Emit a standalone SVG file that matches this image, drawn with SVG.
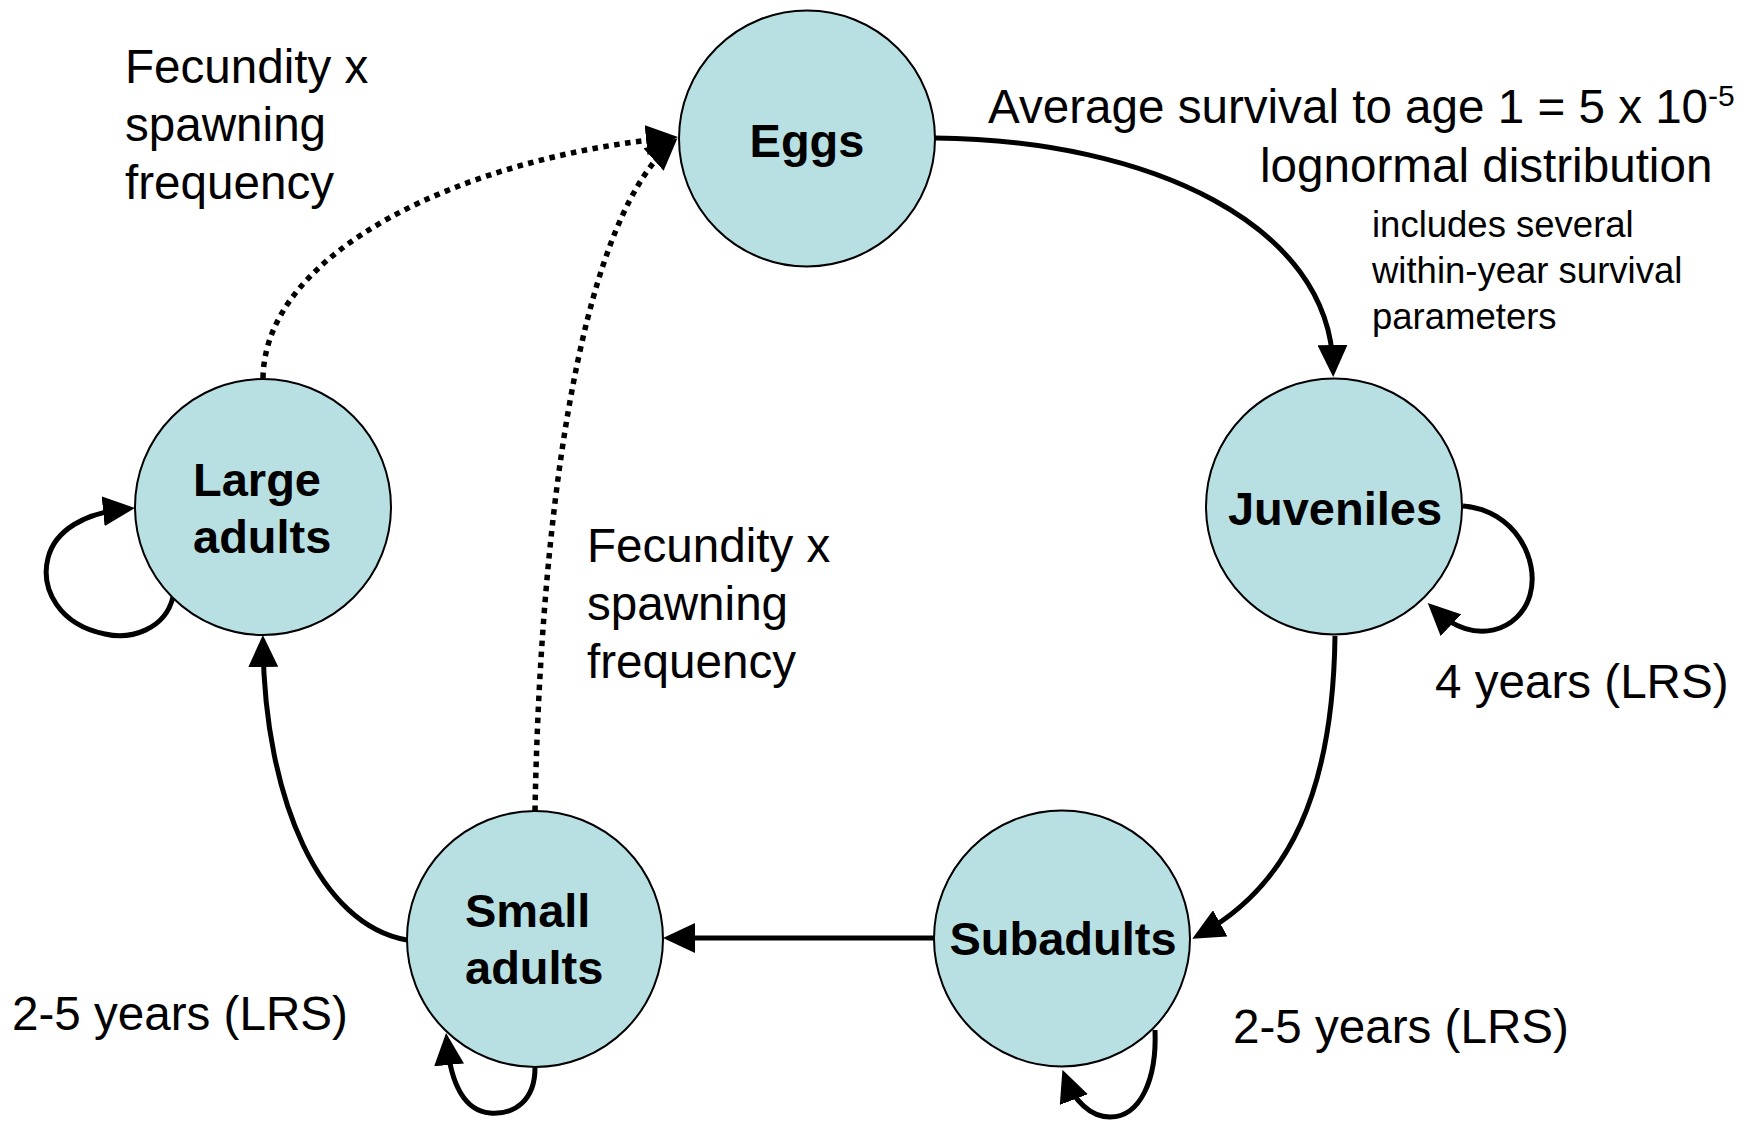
<svg xmlns="http://www.w3.org/2000/svg" width="1748" height="1125" viewBox="0 0 1748 1125">
<style>
.node{fill:#b8e0e3;stroke:#000;stroke-width:2}
.lbl{font-family:"Liberation Sans",Arial,sans-serif;font-weight:bold;font-size:47px;fill:#000}
.txt{font-family:"Liberation Sans",Arial,sans-serif;font-size:47.6px;fill:#000}
.small{font-family:"Liberation Sans",Arial,sans-serif;font-size:36.5px;fill:#000}
.edge{fill:none;stroke:#000;stroke-width:5;marker-end:url(#arr)}
.dot{fill:none;stroke:#000;stroke-width:5.5;stroke-dasharray:5.5 5.5;marker-end:url(#arr)}
</style>
<defs>
<marker id="arr" markerUnits="userSpaceOnUse" markerWidth="32" markerHeight="30" viewBox="0 0 32 30" refX="22" refY="15" orient="auto">
<path d="M0,0 L32,15 L0,30 Z" fill="#000"/>
</marker>
</defs>
<g id="connectors">
<path class="edge" d="M935 138 C1150 140, 1330 225, 1333 367"/>
<path class="edge" d="M1335 636 C1333 790, 1290 885, 1201 934"/>
<path class="edge" d="M934 938 L673 938"/>
<path class="edge" d="M407 940 C320 925, 265 800, 263 645"/>
<path class="edge" d="M1463 506 C1515 510, 1540 560, 1530 595 C1520 630, 1475 648, 1435 610"/>
<path class="edge" d="M173 597 C165 630, 130 640, 105 634 C60 625, 40 590, 48 558 C55 530, 85 513, 125 509"/>
<path class="edge" d="M535 1068 C535 1100, 515 1115, 490 1113 C465 1111, 451 1085, 447 1043"/>
<path class="edge" d="M1155 1030 C1157 1080, 1140 1117, 1110 1117 C1090 1117, 1074 1100, 1066 1079"/>
<path class="dot" d="M263 378 C265 250, 465 158, 668 138"/>
<path class="dot" d="M535 811 C540 540, 575 230, 670 145"/>
</g>
<g id="eggs">
<circle class="node" cx="807" cy="138.5" r="128"/>
<text class="lbl" x="807" y="157" text-anchor="middle">Eggs</text>
</g>
<g id="juveniles">
<circle class="node" cx="1334" cy="506.5" r="128"/>
<text class="lbl" x="1335" y="525" text-anchor="middle">Juveniles</text>
</g>
<g id="subadults">
<circle class="node" cx="1062" cy="938.5" r="128"/>
<text class="lbl" x="1063" y="955" text-anchor="middle">Subadults</text>
</g>
<g id="small-adults">
<circle class="node" cx="535" cy="939" r="128"/>
<text class="lbl" x="465" y="927">Small</text>
<text class="lbl" x="465" y="984">adults</text>
</g>
<g id="large-adults">
<circle class="node" cx="263" cy="507" r="128"/>
<text class="lbl" x="193" y="496">Large</text>
<text class="lbl" x="193" y="553">adults</text>
</g>
<g id="labels">
<text class="txt" x="125" y="83">Fecundity x</text>
<text class="txt" x="125" y="141">spawning</text>
<text class="txt" x="125" y="199">frequency</text>
<text class="txt" x="587" y="562">Fecundity x</text>
<text class="txt" x="587" y="620">spawning</text>
<text class="txt" x="587" y="678">frequency</text>
<text class="txt" x="988" y="123">Average survival to age 1 = 5 x 10<tspan font-size="30" dy="-17">-5</tspan></text>
<text class="txt" x="1260" y="182">lognormal distribution</text>
<text class="small" x="1372" y="237">includes several</text>
<text class="small" x="1372" y="283">within-year survival</text>
<text class="small" x="1372" y="329">parameters</text>
<text class="txt" x="1435" y="698">4 years (LRS)</text>
<text class="txt" x="1233" y="1043">2-5 years (LRS)</text>
<text class="txt" x="12" y="1030">2-5 years (LRS)</text>
</g>
</svg>
